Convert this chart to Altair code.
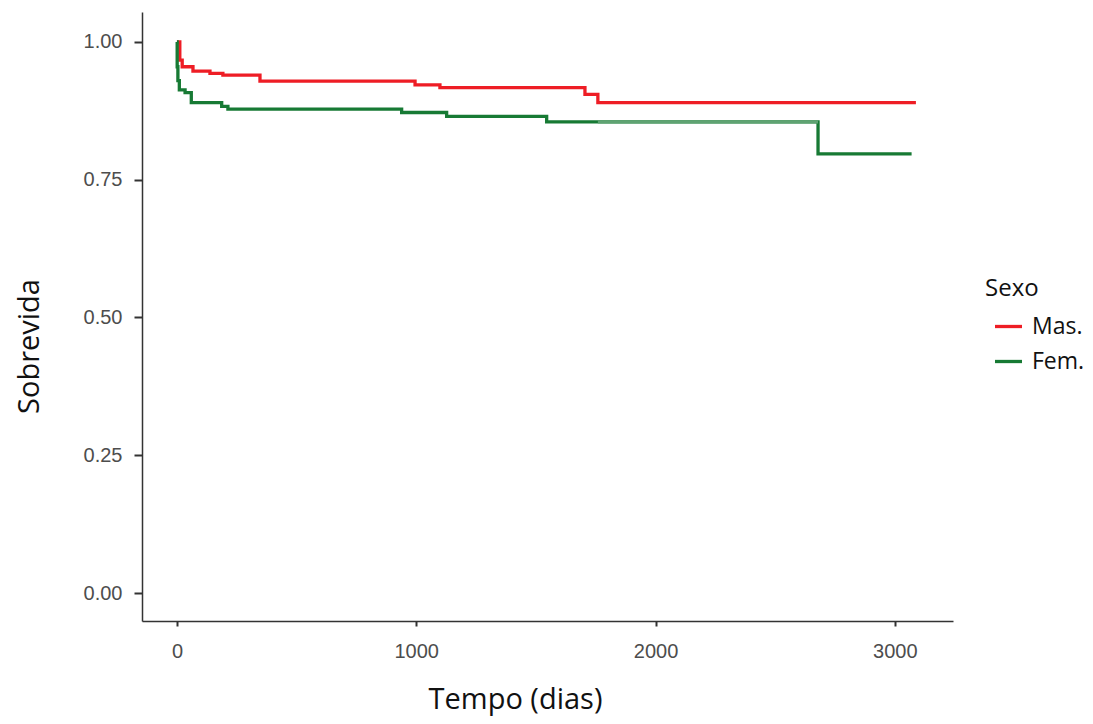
import altair as alt
import pandas as pd

# ---- data ----
sexo = ["Mas.", "Fem."]
mas_t = [0, 12, 22, 67, 138, 192, 347, 995, 1099, 1705, 1759, 3088]
mas_s = [1.0, 0.967, 0.955, 0.947, 0.943, 0.940, 0.929, 0.922, 0.917, 0.905, 0.890, 0.890]
fem_t = [0, 1, 4, 10, 34, 60, 187, 213, 939, 1127, 1545, 2679, 3070]
fem_s = [1.0, 0.955, 0.930, 0.913, 0.908, 0.890, 0.883, 0.878, 0.872, 0.865, 0.855, 0.797, 0.797]
fem_faded_t = [1759, 2679]
fem_faded_s = [0.855, 0.855]
x_ticks = [0, 1000, 2000, 3000]
y_ticks = [0.0, 0.25, 0.5, 0.75, 1.0]

colors = ["#EE1D25", "#177A34"]
faded_green = "#5FA372"

rows = []
for t, s in zip(mas_t, mas_s):
    rows.append({"t": t, "s": s, "Sexo": sexo[0]})
for t, s in zip(fem_t, fem_s):
    rows.append({"t": t, "s": s, "Sexo": sexo[1]})
df = pd.DataFrame(rows)
df_faded = pd.DataFrame({"t": fem_faded_t, "s": fem_faded_s})

label_font = "Liberation Sans"
title_font = "Open Sans"

x_scale = alt.Scale(domain=[-146, 3243], nice=False, zero=False)
y_scale = alt.Scale(domain=[-0.0508, 1.0544], nice=False, zero=False)

x_axis = alt.Axis(
    values=x_ticks, format="d", title="Tempo (dias)", grid=False,
    domainColor="#333333", domainWidth=1.5, tickColor="#333333", tickWidth=2,
    tickSize=5, labelFont=label_font, labelFontSize=20, labelColor="#4D4D4D",
    labelPadding=15, titleFont=title_font, titleFontSize=29,
    titleFontWeight="normal", titleColor="#111111",
    titleX=373, titleY=87, titleAlign="center", titleBaseline="alphabetic",
)
y_axis = alt.Axis(
    values=y_ticks, format=".2f", title="Sobrevida", grid=False,
    domainColor="#333333", domainWidth=1.5, tickColor="#333333", tickWidth=2,
    tickSize=8, labelFont=label_font, labelFontSize=20, labelColor="#4D4D4D",
    labelPadding=12, titleFont=title_font, titleFontSize=29,
    titleFontWeight="normal", titleColor="#111111",
    titleX=-104, titleY=334, titleAngle=270, titleAlign="center",
    titleBaseline="alphabetic",
)

lines = alt.Chart(df).mark_line(interpolate="step-after", strokeWidth=3.3).encode(
    x=alt.X("t:Q", scale=x_scale, axis=x_axis),
    y=alt.Y("s:Q", scale=y_scale, axis=y_axis),
    color=alt.Color(
        "Sexo:N",
        scale=alt.Scale(domain=sexo, range=colors),
        sort=sexo,
        legend=alt.Legend(
            title="Sexo", orient="none", legendX=843, legendY=265,
            symbolType="stroke", symbolSize=729, symbolStrokeWidth=3.3,
            symbolOffset=8, labelOffset=8, padding=0, titlePadding=10,
            rowPadding=7, titleFont=title_font, titleFontSize=24,
            titleFontWeight="normal", titleColor="#111111",
            labelFont=title_font, labelFontSize=23, labelColor="#111111",
        ),
    ),
)

faded = alt.Chart(df_faded).mark_line(
    interpolate="step-after", strokeWidth=3.3, color=faded_green
).encode(x=alt.X("t:Q", scale=x_scale), y=alt.Y("s:Q", scale=y_scale))

chart = (
    alt.layer(lines, faded)
    .properties(
        width=811, height=609,
        autosize=alt.AutoSizeParams(type="none"),
        padding={"left": 134, "top": 4, "right": 132, "bottom": 95},
        background="white",
    )
    .configure_view(stroke=None)
)

chart.save("out.html", embed_options={"renderer": "svg", "actions": False})
